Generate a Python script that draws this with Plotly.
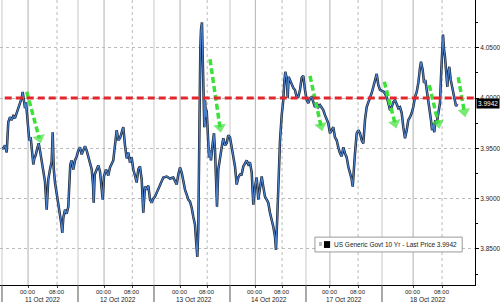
import plotly.graph_objects as go

# ---- data (trading-hour index, yield) ----
hours = [0.00, 0.36, 0.83, 1.30, 1.74, 2.21, 2.68, 3.12, 3.59, 4.06, 4.50, 4.97, 5.44, 5.72, 6.08, 6.36, 6.63, 6.99,
         7.27, 7.54, 7.93, 8.21, 8.65, 8.93, 9.31, 9.75, 10.14, 10.50, 10.97, 11.41, 11.88, 12.35, 12.79, 13.26, 13.73,
         14.01, 14.29, 14.65, 15.11, 15.56, 16.03, 16.39, 16.66, 16.94, 17.41, 17.88, 18.32, 18.60, 18.87, 19.26, 19.70,
         20.17, 20.64, 21.08,
         21.55, 22.02, 22.47, 22.93, 23.40, 23.85, 24.32, 24.79, 25.15, 25.34, 25.62, 26.17, 26.61, 27.08, 27.55, 27.83,
         28.18, 28.74, 29.37, 29.84, 30.75, 31.22, 31.69, 32.14, 32.61, 33.08, 33.52, 33.99, 34.46, 34.90, 35.37, 35.84,
         36.28, 36.75, 37.22, 37.66, 38.13, 38.60, 39.04, 39.51, 39.98, 40.43, 40.90, 41.37, 41.81,
         42.28, 42.75, 43.19, 43.66, 44.13, 44.57, 45.51, 46.42, 47.33, 47.80, 48.27, 48.72, 49.19, 49.66, 50.10, 50.57,
         51.04, 51.48, 51.95, 52.42, 52.86, 53.33, 53.61, 53.97, 54.24, 54.52, 54.80, 54.99, 55.26, 55.46, 55.62, 55.90,
         56.09, 56.37, 56.56, 56.84, 57.20, 57.47, 57.75, 58.22, 58.58, 58.86, 59.13, 59.41, 59.77, 60.24, 60.71, 61.15,
         61.62, 62.09, 62.53, 63.00,
         63.47, 63.91, 64.38, 64.85, 65.30, 65.76, 66.23, 66.68, 67.15, 67.61, 68.06, 68.53, 69.00, 69.44, 69.91, 70.38,
         70.82, 71.29, 71.76, 72.20, 72.67, 73.14, 73.58, 74.05, 74.52, 74.97, 75.44, 75.71, 76.07, 76.46, 76.82, 77.29,
         77.73, 78.01, 78.28, 78.67, 78.94, 79.22, 79.58, 80.05, 80.49, 80.96, 81.43, 81.87, 82.34, 82.81, 83.26, 83.72,
         84.19, 84.64, 85.11, 85.58, 86.02, 86.49, 86.96, 87.40, 87.87, 88.34, 88.78, 89.25, 89.72, 90.16, 90.63, 91.10,
         91.55, 92.01, 92.48, 92.93, 93.40, 93.87, 94.31, 94.78, 95.25, 95.69, 96.16, 96.63, 96.91, 97.27, 97.54, 98.01,
         98.45, 98.92, 99.39, 99.84, 100.30, 100.77, 101.22, 101.69, 102.16, 102.60, 103.07, 103.54, 103.98, 104.45,
         105.56, 106.30, 106.75, 107.21, 107.68, 108.13, 108.60, 109.07, 109.51, 109.98, 110.45, 110.89, 111.36, 111.83,
         112.27, 112.74, 113.21, 113.65, 114.12, 114.59, 115.04, 115.50, 115.78, 116.25, 116.61, 116.97, 117.35, 117.80,
         118.27, 118.54, 118.82, 119.18, 119.46, 119.73, 120.12, 120.56, 121.03, 121.31, 121.58, 121.86, 122.14, 122.41,
         122.69, 123.05, 123.33, 123.60, 123.99, 124.35, 124.71, 125.10, 125.45, 125.81]

yields = [3.950, 3.950, 3.953, 3.946, 3.976, 3.981, 3.978, 3.982, 3.980, 3.985, 3.990, 3.994, 4.000, 4.006, 3.998, 3.990,
          3.996, 3.983, 3.970, 3.958, 3.961, 3.948, 3.934, 3.940, 3.943, 3.950, 3.955, 3.948, 3.938, 3.929, 3.917, 3.889,
          3.919, 3.929, 3.937, 3.966, 3.930, 3.916, 3.906, 3.896, 3.887, 3.875, 3.866, 3.881, 3.889, 3.885, 3.892, 3.922,
          3.934, 3.938, 3.929, 3.938, 3.942, 3.948,
          3.951, 3.944, 3.949, 3.952, 3.948, 3.941, 3.936, 3.929, 3.914, 3.896, 3.924, 3.929, 3.933, 3.927, 3.913, 3.899,
          3.922, 3.929, 3.923, 3.931, 3.938, 3.955, 3.968, 3.958, 3.960, 3.966, 3.971, 3.953, 3.940, 3.946, 3.936, 3.941,
          3.929, 3.923, 3.916, 3.929, 3.932, 3.919, 3.886, 3.912, 3.909, 3.913, 3.899, 3.896, 3.900,
          3.902, 3.906, 3.909, 3.912, 3.916, 3.921, 3.922, 3.920, 3.921, 3.917, 3.914, 3.924, 3.931, 3.926, 3.916, 3.909,
          3.904, 3.899, 3.897, 3.891, 3.882, 3.874, 3.859, 3.842, 3.869, 3.998, 4.048, 4.068, 4.075, 4.041, 3.998, 3.971,
          3.998, 3.981, 3.988, 3.965, 3.941, 3.948, 3.938, 3.955, 3.965, 3.948, 3.912, 3.892, 3.929, 3.943, 3.951, 3.960,
          3.953, 3.955, 3.963, 3.961,
          3.951, 3.943, 3.932, 3.914, 3.921, 3.924, 3.924, 3.932, 3.936, 3.938, 3.934, 3.936, 3.926, 3.894, 3.912, 3.921,
          3.899, 3.912, 3.922, 3.912, 3.902, 3.899, 3.896, 3.886, 3.879, 3.872, 3.862, 3.849, 3.882, 3.924, 3.958, 3.983,
          3.998, 4.016, 4.026, 4.020, 4.000, 4.021, 4.018, 4.013, 4.010, 4.008, 4.001, 4.001, 4.008, 4.020, 4.022, 4.008,
          3.998, 3.995, 4.000, 4.001, 3.995, 3.991, 3.995, 3.991, 3.993, 3.990, 3.988, 3.983, 3.978, 3.975, 3.965, 3.968,
          3.971, 3.961, 3.958, 3.951, 3.945, 3.942, 3.951, 3.945, 3.941, 3.932, 3.926, 3.919, 3.912, 3.938, 3.945, 3.965,
          3.968, 3.965, 3.958, 3.955, 3.978, 3.991, 3.995, 4.001, 4.005, 4.011, 4.018, 4.024, 4.013, 4.008,
          4.006, 4.001, 3.995, 3.988, 3.991, 3.996, 3.998, 3.993, 3.990, 3.991, 3.985, 3.971, 3.960, 3.968,
          3.978, 3.981, 3.985, 3.991, 4.001, 4.006, 4.015, 4.030, 4.036, 4.028, 4.015, 4.018, 4.008, 3.998,
          3.988, 3.978, 3.968, 3.975, 3.966, 3.978, 3.975, 3.985, 3.995, 4.021, 4.051, 4.063, 4.048, 4.041,
          4.028, 4.011, 4.025, 4.031, 4.018, 4.011, 4.005, 3.998, 3.992, 3.9942]

last_price = 3.9942
ref_level = 4.00
series_name = "US Generic Govt 10 Yr - Last Price 3.9942"

day_labels = ["11 Oct 2022", "12 Oct 2022", "13 Oct 2022", "14 Oct 2022", "17 Oct 2022", "18 Oct 2022"]
session_start = [0, 21, 42, 63, 84, 105]
midnight_x = [7.2, 28.2, 49.2, 70.0, 90.6, 113.6]
eight_x = [15.2, 36.0, 56.7, 77.4, 98.4, 121.6]
y_ticks = [3.85, 3.90, 3.95, 4.00, 4.05]

arrow_x0 = [6.83, 57.47, 85.11, 105.64, 118.07, 126.08]
arrow_y0 = [4.0063, 4.0385, 4.0219, 4.0162, 4.0129, 4.0206]
arrow_x1 = [10.31, 60.24, 88.15, 108.59, 120.56, 127.74]
arrow_y1 = [3.9600, 3.9709, 3.9722, 3.9749, 3.9749, 3.9864]

FONT = "Liberation Sans"
GREEN = "#3ee03a"
TXT = "#222222"

fig = go.Figure()
fig.add_trace(go.Scatter(x=hours, y=yields, mode="lines",
                         line=dict(color="#18212e", width=2.5), hoverinfo="skip", showlegend=False))
fig.add_trace(go.Scatter(x=hours, y=yields, mode="lines",
                         line=dict(color="#4a80cc", width=1.2), hoverinfo="skip", showlegend=False))

for x0, y0, x1, y1 in zip(arrow_x0, arrow_y0, arrow_x1, arrow_y1):
    fig.add_trace(go.Scatter(x=[x0, x1], y=[y0, y1], mode="lines+markers",
                             line=dict(color=GREEN, width=3.5, dash="6px,3px"),
                             marker=dict(symbol="triangle-up", size=[0, 11], angleref="previous",
                                         color=GREEN, line=dict(width=0)),
                             hoverinfo="skip", showlegend=False))

shapes = []
for s in session_start:
    shapes.append(dict(type="line", xref="x", yref="paper", x0=s, x1=s, y0=0, y1=1,
                       line=dict(color="#c8c8c8", width=1), layer="below"))
    shapes.append(dict(type="line", xref="x", yref="paper", x0=s, x1=s, y0=-0.06, y1=0,
                       line=dict(color="#555555", width=1), layer="above"))
for m in midnight_x:
    shapes.append(dict(type="line", xref="x", yref="paper", x0=m, x1=m, y0=0, y1=1,
                       line=dict(color="#b0b0b0", width=1), layer="below"))
for e in eight_x:
    shapes.append(dict(type="line", xref="x", yref="paper", x0=e, x1=e, y0=0, y1=1,
                       line=dict(color="#bbbbbb", width=1, dash="dot"), layer="below"))

# red reference line
shapes.append(dict(type="line", xref="paper", yref="y", x0=0.01, x1=1, y0=ref_level, y1=ref_level,
                   line=dict(color="#e3262b", width=3, dash="7px,4px"), layer="above"))

# legend box
shapes.append(dict(type="rect", xref="paper", yref="paper", x0=0.663, x1=0.973, y0=0.116, y1=0.168,
                   fillcolor="white", line=dict(color="#9a9a9a", width=1), layer="above"))
shapes.append(dict(type="rect", xref="paper", yref="paper", x0=0.6716, x1=0.6779, y0=0.137, y1=0.151,
                   fillcolor="#bbbbbb", line=dict(width=0), layer="above"))
shapes.append(dict(type="rect", xref="paper", yref="paper", x0=0.682, x1=0.695, y0=0.130, y1=0.154,
                   fillcolor="black", line=dict(width=0), layer="above"))

annotations = []
tfont = dict(family=FONT, size=6, color=TXT)
dfont = dict(family=FONT, size=6.5, color=TXT)
for lab, m, e in zip(day_labels, midnight_x, eight_x):
    annotations.append(dict(x=m, xref="x", y=0, yref="paper", yshift=-7, text="00:00", showarrow=False,
                            xanchor="center", yanchor="middle", font=tfont))
    annotations.append(dict(x=e, xref="x", y=0, yref="paper", yshift=-7, text="08:00", showarrow=False,
                            xanchor="center", yanchor="middle", font=tfont))
    annotations.append(dict(x=(m + e) / 2, xref="x", y=0, yref="paper", yshift=-14, text=lab, showarrow=False,
                            xanchor="center", yanchor="middle", font=dfont))
annotations.append(dict(x=0.699, xref="paper", y=0.142, yref="paper", text=series_name, showarrow=False,
                        xanchor="left", yanchor="middle", font=dict(family=FONT, size=6.5, color=TXT)))
annotations.append(dict(x=1, xref="paper", xshift=1, y=last_price, yref="y", text=f"{last_price:.4f}",
                        showarrow=False, xanchor="left", yanchor="middle", bgcolor="black", borderpad=1,
                        font=dict(family=FONT, size=6.5, color="white")))

fig.update_layout(
    width=500, height=302,
    margin=dict(l=0, r=25, t=0, b=17),
    paper_bgcolor="white", plot_bgcolor="white",
    showlegend=False,
    shapes=shapes, annotations=annotations,
    xaxis=dict(range=[-0.55, 130.7], tickvals=midnight_x + eight_x, showticklabels=False,
               ticks="outside", ticklen=2, tickcolor="#444", showline=True, linecolor="black", linewidth=1,
               showgrid=False, zeroline=False),
    yaxis=dict(side="right", range=[3.8142, 4.0974], tickvals=y_ticks, tickformat=".4f",
               ticks="outside", ticklen=3, tickcolor="black", showline=True, linecolor="black", linewidth=1,
               showgrid=True, gridcolor="#bbbbbb", griddash="dot", gridwidth=1, zeroline=False,
               minor=dict(dtick=0.025, tick0=3.825, ticks="outside", ticklen=2, tickcolor="black", showgrid=False),
               tickfont=dict(family=FONT, size=6.5, color=TXT)),
)

fig.write_html("out.html")
